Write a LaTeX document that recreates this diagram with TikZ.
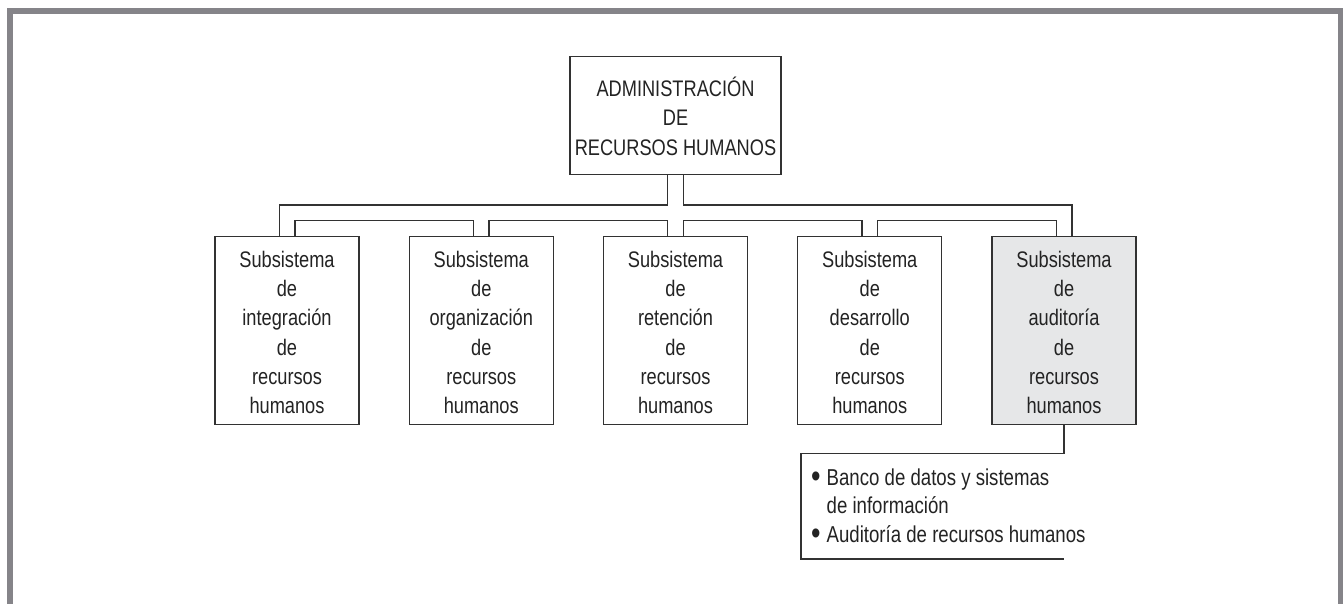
\documentclass[tikz,border=0pt]{standalone}
\usepackage{fontspec}
\setmainfont{Liberation Sans}[FakeStretch=0.81]
\usetikzlibrary{calc}
\definecolor{linec}{RGB}{50,50,50}
\definecolor{textc}{RGB}{35,35,35}
\definecolor{fillg}{RGB}{230,231,232}
\definecolor{framec}{RGB}{133,132,137}
\newcommand\mystack[1]{\begin{tabular}[t]{@{}c@{}}#1\end{tabular}}
\newcommand\mybul{\raisebox{-2pt}{\scalebox{1.45}{•}}}
\pgfdeclarelayer{background}
\pgfsetlayers{background,main}
\begin{document}
\begin{tikzpicture}[x=1pt,y=-1pt,
  font=\fontsize{22.5}{29.3}\selectfont,
  box/.style={draw=linec, line width=1.3pt, fill=white, text=textc, inner sep=0pt,
    minimum width=144pt, anchor=north, text height=31pt, text depth=157.3pt},
  topbox/.style={draw=linec, line width=1.3pt, fill=white, text=textc, inner sep=0pt,
    minimum width=211pt, anchor=north, text height=40pt, text depth=78pt},
  conn/.style={draw=linec, line width=1.3pt, line join=miter},
  pipe/.style={line width=#1, line join=miter}
]
\useasboundingbox (0,0) rectangle (1344,603);
% frame
\draw[framec, line width=5.7pt, line join=miter] (9.85,608) -- (9.85,10.65) -- (1340.5,10.65) -- (1340.5,608);

% nodes
\node[topbox] (top) at (675.5,56) {\mystack{ADMINISTRACIÓN\\DE\\RECURSOS HUMANOS}};
\node[box] (b1) at (287,235.7) {\mystack{Subsistema\\de\\integración\\de\\recursos\\humanos}};
\node[box] (b2) at (481.25,235.7) {\mystack{Subsistema\\de\\organización\\de\\recursos\\humanos}};
\node[box] (b3) at (675.5,235.7) {\mystack{Subsistema\\de\\retención\\de\\recursos\\humanos}};
\node[box] (b4) at (869.75,235.7) {\mystack{Subsistema\\de\\desarrollo\\de\\recursos\\humanos}};
\node[box, fill=fillg] (b5) at (1064,235.7) {\mystack{Subsistema\\de\\auditoría\\de\\recursos\\humanos}};

% pipe connectors
\coordinate (bus) at (0,212.8);
\begin{pgfonlayer}{background}
\foreach \w/\c in {17/linec, 14.4/white}{
  \draw[pipe=\w pt, draw=\c] (b1.north) -- (b1.north |- bus) -- (b5.north |- bus) -- (b5.north);
  \draw[pipe=\w pt, draw=\c] (top.south) -- (b3.north);
  \draw[pipe=\w pt, draw=\c] (b2.north) -- (b2.north |- bus);
  \draw[pipe=\w pt, draw=\c] (b4.north) -- (b4.north |- bus);
}
\end{pgfonlayer}

% list
\node[anchor=base west, inner sep=0pt, text=textc, font=\fontsize{23}{28.5}\selectfont] (lst) at (811,485)
  {\begin{tabular}[t]{@{}l@{\hspace{6pt}}l@{}}\mybul&Banco de datos y sistemas\\ &de información\\ \mybul&Auditoría de recursos humanos\end{tabular}};
\coordinate (lt) at (801,453.8);
\coordinate (lb) at (801,559);
\draw[conn] (b5.south) |- (lt) -- (lb) -- (lb -| b5.south);
\end{tikzpicture}
\end{document}
